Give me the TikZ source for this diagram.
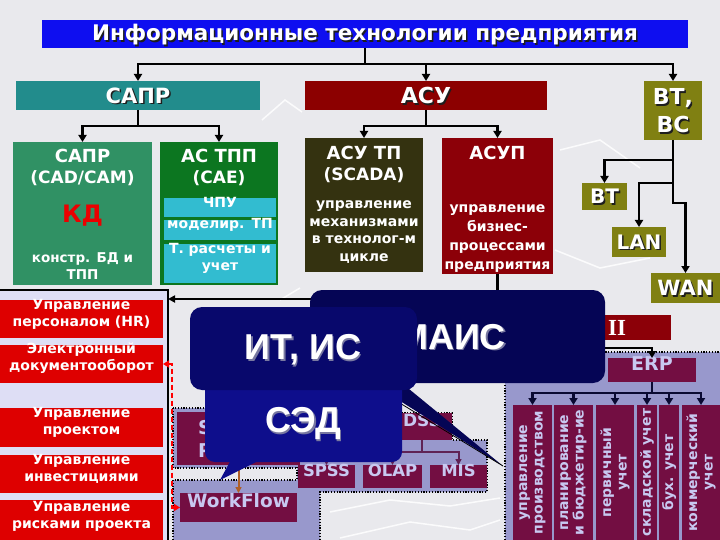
\documentclass[tikz,border=0pt]{standalone}
\usepackage{fontspec}
\setmainfont{DejaVu Sans}
\newfontfamily\cfont{Liberation Sans}
\newfontfamily\rfont{Liberation Serif}
\usetikzlibrary{fit,arrows.meta}
\definecolor{bgc}{RGB}{233,233,237}
\definecolor{tblue}{RGB}{14,14,240}
\definecolor{teal1}{RGB}{34,140,140}
\definecolor{asured}{RGB}{140,0,0}
\definecolor{olive1}{RGB}{128,128,18}
\definecolor{cadg}{RGB}{48,145,100}
\definecolor{caeg}{RGB}{12,118,32}
\definecolor{cyan1}{RGB}{50,188,208}
\definecolor{scad}{RGB}{52,50,16}
\definecolor{asupr}{RGB}{140,0,8}
\definecolor{kdred}{RGB}{235,0,0}
\definecolor{lred}{RGB}{222,0,0}
\definecolor{lav1}{RGB}{222,222,245}
\definecolor{lav2}{RGB}{152,152,204}
\definecolor{mar}{RGB}{115,14,66}
\definecolor{martxt}{RGB}{200,200,240}
\definecolor{navy1}{RGB}{5,5,85}
\definecolor{navy2}{RGB}{8,8,108}
\definecolor{navy3}{RGB}{14,14,140}
\definecolor{brownarr}{RGB}{175,95,40}
\definecolor{dssline}{RGB}{95,35,85}
\definecolor{shad}{RGB}{30,30,30}
\definecolor{cshad}{RGB}{120,120,160}
\definecolor{erpline}{RGB}{10,10,50}
\newcommand\fsz[2]{\fontsize{#1}{#2}\selectfont\bfseries}
\newcommand\stxt[5]{%
  \node[text=#5, font=#3, align=center, inner sep=0pt] (#1s) at ([shift={(1.5,1.5)}]#2) {#4};
  \node[text=white, font=#3, align=center, inner sep=0pt] (#1) at (#2) {#4};}
\begin{document}
\begin{tikzpicture}[x=1pt,y=-1pt,
  rbox/.style={inner sep=0pt, outer sep=0pt, draw=none},
  lbl/.style={inner sep=0pt, align=center, text=white},
  mtxt/.style={inner sep=0pt, align=center, text=martxt},
  conn/.style={line width=2.4pt, black},
  arr/.style={conn, -{Triangle[length=7pt,width=8pt]}},
  darr/.style={line width=2pt, dssline, -{Triangle[length=6pt,width=6pt]}},
  earr/.style={line width=2.4pt, erpline, -{Triangle[length=7pt,width=8pt]}},
  dotb/.style={draw=black, line width=1.2pt, dash pattern=on 1.2pt off 1.6pt},
  bgl/.style={white, line width=1.5pt, opacity=.85},
  vtxt/.style={rotate=90, inner sep=0pt, align=center, text=martxt, font=\fsz{14}{15.5}}]
\useasboundingbox (0,0) rectangle (720,540);
\clip (0,0) rectangle (720,540);
\fill[bgc] (0,0) rectangle (720,540);
% background texture
\draw[bgl] (330,512) -- (390,500) -- (450,506) -- (500,498);
\draw[bgl] (340,538) -- (410,522) -- (470,530) -- (500,520);
\draw[bgl] (560,150) -- (600,140) -- (640,168);
\draw[bgl] (555,250) -- (600,268) -- (650,258);
\draw[bgl] (262,120) -- (285,100) -- (302,112);
\draw[bgl] (280,300) -- (300,288);

% title
\node[rbox, fill=tblue, fit={(42,20)(688,48)}] (title) {};
\stxt{titlet}{365,35}{\fsz{21.5}{26}}{Информационные технологии предприятия}{shad}

% level 1
\node[rbox, fill=teal1, fit={(16,81)(260,110)}] (sapr) {};
\stxt{saprt}{138,95.5}{\fsz{21}{25}}{САПР}{shad}
\node[rbox, fill=asured, fit={(305,81)(547,110)}] (asu) {};
\stxt{asut}{426,95.5}{\fsz{22}{25}}{АСУ}{shad}
\node[rbox, fill=olive1, fit={(644,81)(702,140)}] (vtvs) {};
\stxt{vtvst}{673,111}{\fsz{22}{28}}{ВТ,\\ВС}{shad}

% level 2
\node[rbox, fill=cadg, fit={(13,142)(152,285)}] (cad) {};
\node[lbl, font=\fsz{18}{21}] (cadt1) at (82.5,156) {САПР};
\node[lbl, font=\fsz{17}{20}] (cadt2) at (82.5,178) {(CAD/CAM)};
\node[lbl, font=\fsz{24}{28}, text=kdred] (kd) at (82.5,216) {КД};
\node[lbl, font=\fsz{13.5}{17}] (cadt3) at (82.5,266) {констр. БД и\\ТПП};

\node[rbox, fill=caeg, fit={(160,142)(278,285)}] (cae) {};
\node[lbl, font=\fsz{18}{21}] (caet1) at (219,156) {АС ТПП};
\node[lbl, font=\fsz{17}{20}] (caet2) at (219,178) {(CAE)};
\node[rbox, fill=cyan1, fit={(164,198)(276,217)}, lbl, font=\fsz{14}{15}] (chpu) {ЧПУ};
\node[rbox, fill=cyan1, fit={(164,220)(276,240)}, lbl, font=\fsz{14}{15}] (model) {моделир. ТП};
\node[rbox, fill=cyan1, fit={(164,244)(276,283)}, lbl, font=\fsz{14}{17}] (tras) {Т. расчеты и\\учет};

\node[rbox, fill=scad, fit={(305,138)(423,272)}] (scada) {};
\node[lbl, font=\fsz{18}{21}] (scadat1) at (364,153) {АСУ ТП};
\node[lbl, font=\fsz{17}{20}] (scadat2) at (364,175) {(SCADA)};
\node[lbl, font=\fsz{14}{17.5}] (scadat3) at (364,232) {управление\\механизмами\\в технолог-м\\цикле};

\node[rbox, fill=asupr, fit={(442,138)(553,274)}] (asup) {};
\node[lbl, font=\fsz{18}{21}] (asupt1) at (497.5,153) {АСУП};
\node[lbl, font=\fsz{14}{19}] (asupt2) at (497.5,239) {управление\\бизнес-\\процессами\\предприятия};

\node[rbox, fill=olive1, fit={(582,183)(627,210)}] (vt) {};
\stxt{vtt}{vt.center}{\fsz{20}{22}}{ВТ}{shad}
\node[rbox, fill=olive1, fit={(612,227)(666,257)}] (lan) {};
\stxt{lant}{lan.center}{\fsz{20}{22}}{LAN}{shad}
\node[rbox, fill=olive1, fit={(651,273)(720,303)}] (wan) {};
\stxt{want}{wan.center}{\fsz{21}{22}}{WAN}{shad}

% connectors top
\coordinate (j0) at (365,64);
\draw[conn] (title.south) -- (j0);
\draw[arr] (j0) -| (sapr.north);
\draw[arr] (j0) -| (asu.north);
\draw[arr] (j0) -| (vtvs.north);
\coordinate (j1) at (138,126);
\draw[conn] (sapr.south) -- (j1);
\draw[arr] (j1) -| (cad.north);
\draw[arr] (j1) -| (cae.north);
\coordinate (j2) at (426,126);
\draw[conn] (asu.south) -- (j2);
\draw[arr] (j2) -| (scada.north);
\draw[arr] (j2) -| (asup.north);
\coordinate (kv) at (673,160);
\coordinate (kl) at (673,183);
\coordinate (kw) at (685.5,203);
\draw[arr] (vtvs.south) |- (kw) -- (wan.north);
\draw[arr] (kv) -| (vt.north);
\draw[arr] (kl) -| (lan.north);

% left panel
\node[rbox, fill=lav1, fit={(0,290)(168,540)}] (lpanel) {};
\draw[black, line width=1.5pt] (lpanel.north west) -- (lpanel.north east) -- (lpanel.south east);
\node[rbox, fill=lred, fit={(0,300)(163,338)}, lbl, font=\fsz{14}{17}] (hr) {Управление\\персоналом (HR)};
\node[rbox, fill=lred, fit={(0,345)(163,383)}, lbl, font=\fsz{14}{17}] (ed) {Электронный\\документооборот};
\node[rbox, fill=lred, fit={(0,408)(163,447)}, lbl, font=\fsz{14}{17}] (pm) {Управление\\проектом};
\node[rbox, fill=lred, fit={(0,455)(163,493)}, lbl, font=\fsz{14}{17}] (inv) {Управление\\инвестициями};
\node[rbox, fill=lred, fit={(0,500)(163,542)}, lbl, font=\fsz{14}{17}] (risk) {Управление\\рисками проекта};

% lower lavender regions
\path[fill=lav2, dotb] (173,408) rectangle (305,468);
\path[fill=lav2, dotb] (173,540) -- (173,480) -- (297,480) -- (297,440) -- (392,440) -- (392,413)
  -- (452,413) -- (452,440) -- (487,440) -- (487,492) -- (320,492) -- (320,540);
\node[rbox, fill=lav2, fit={(505,352)(720,540)}] (erpreg) {};
\draw[dotb] (erpreg.south west) |- (erpreg.north east);

% boxes lower
\node[rbox, fill=mar, fit={(177,412)(300,465)}] (spider) {};
\node[mtxt, anchor=west, align=left, font=\fsz{19}{23}] (spidert) at (198,439) {S\\P};
\node[rbox, fill=mar, fit={(180,493)(297,522)}, mtxt, font=\fsz{18.5}{20}] (wf) {WorkFlow};
\draw[brownarr, line width=2pt, -{Triangle[length=6pt,width=6pt]}] (spider.south) -- (wf.north);
\draw[red, line width=2.6pt, dash pattern=on 5pt off 3pt, {Triangle[length=6pt,width=7pt]}-{Triangle[length=6pt,width=7pt]}]
  (ed.east) -- ++(9,0) |- (wf.west);

\node[rbox, fill=mar, fit={(392,413)(452,440)}, mtxt, font=\fsz{17}{18}] (dss) {DSS};
\node[rbox, fill=mar, fit={(298,465)(355,488)}, mtxt, font=\fsz{16.5}{18}] (spss) {SPSS};
\node[rbox, fill=mar, fit={(363,465)(422,488)}, mtxt, font=\fsz{16.5}{18}] (olap) {OLAP};
\node[rbox, fill=mar, fit={(430,465)(487,488)}, mtxt, font=\fsz{16.5}{18}] (mis) {MIS};
\coordinate (dj) at (422,452);
\draw[line width=2pt, dssline] (dss.south) -- (dj);
\draw[darr] (dj) -| (spss.north);
\draw[darr] (dj) -| (olap.north);
\draw[darr] (dj) -| (mis.north);

% ERP
\node[rbox, fill=asupr, fit={(590,315)(671,340)}] (ii) {};
\node[inner sep=0pt, anchor=west, text=white, font=\rfont\fsz{23}{24}] (iit) at (608,328) {II};
\node[rbox, fill=mar, fit={(608,358)(696,382)}, mtxt, font=\fsz{19}{20}] (erp) {ERP};
\node[rbox, fill=mar, fit={(513,405)(552,540)}] (v1) {};
\node[rbox, fill=mar, fit={(554,405)(593,540)}] (v2) {};
\node[rbox, fill=mar, fit={(596,405)(634,540)}] (v3) {};
\node[rbox, fill=mar, fit={(637,405)(657,540)}] (v4) {};
\node[rbox, fill=mar, fit={(659,405)(679,540)}] (v5) {};
\node[rbox, fill=mar, fit={(682,405)(722,540)}] (v6) {};
\node[vtxt] (v1t) at (v1.center) {управление\\производством};
\node[vtxt] (v2t) at (v2.center) {планирование\\и бюджетир-ие};
\node[vtxt] (v3t) at (v3.center) {первичный\\учет};
\node[vtxt] (v4t) at (v4.center) {складской учет};
\node[vtxt] (v5t) at (v5.center) {бух. учет};
\node[vtxt] (v6t) at (701,472.5) {коммерческий\\учет};
\coordinate (ej2) at (652,393);
\draw[line width=2.4pt, erpline] (erp.south) -- (ej2);
\foreach \v in {v1,v2,v3,v4,v5}{\draw[earr] (ej2) -| (\v.north);}
\draw[earr] (ej2) -| (701,405);

% connectors to/from callouts (drawn first, hidden under callouts)
\coordinate (ml) at (330,299);
\draw[line width=1.8pt, black, -{Triangle[length=7pt,width=7pt]}] (ml) -- (lpanel.east |- ml);
\coordinate (mr) at (590,348);
\draw[arr] (mr) -| (erp.north);
\draw[conn] (asup.south) -- (497.5,300);

% callouts
\node[rbox, fill=navy1, rounded corners=12pt, fit={(310,290)(605,383)}] (maic) {};
\fill[navy1] (367,380) -- (503,466) -- (398,380) -- cycle;
\draw[black, line width=.8pt] (367,383) -- (503,466);
\stxt{maict}{452,337}{\cfont\fsz{36}{40}}{МАИС}{cshad}

\node[rbox, fill=navy3, rounded corners=10pt, fit={(205,380)(402,462)}] (sed) {};
\fill[navy3] (232,458) -- (220,480) -- (264,458) -- cycle;
\stxt{sedt}{303,424}{\cfont\fsz{36}{40}}{СЭД}{cshad}

\node[rbox, fill=navy2, rounded corners=12pt, fit={(190,307)(417,390)}] (itis) {};
\stxt{itist}{303,350}{\cfont\fsz{36}{40}}{ИТ, ИС}{cshad}
\end{tikzpicture}
\end{document}
